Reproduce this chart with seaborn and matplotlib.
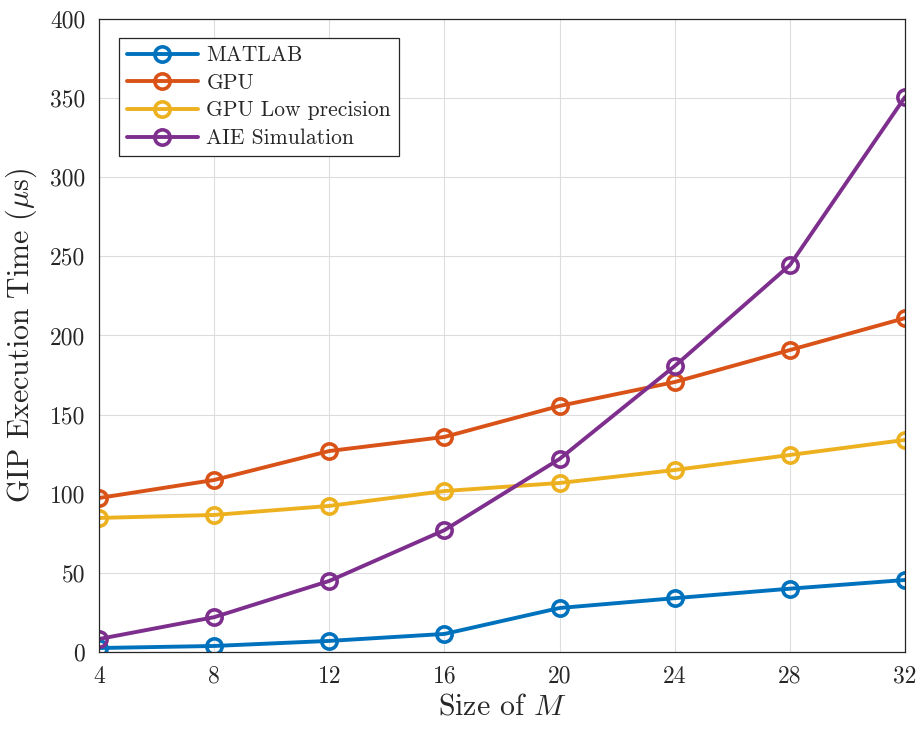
import matplotlib
matplotlib.use("Agg")
import matplotlib.pyplot as plt
import seaborn as sns
import pandas as pd

sizes = [4, 8, 12, 16, 20, 24, 28, 32]
matlab = [2.5, 3.8, 7.0, 11.4, 27.8, 34.0, 40.0, 45.5]
gpu = [97.3, 108.7, 127.0, 135.9, 155.5, 170.6, 190.8, 211.0]
gpu_low = [84.7, 86.6, 92.3, 101.7, 106.8, 115.0, 124.5, 134.0]
aie = [8.2, 22.0, 44.9, 77.0, 122.0, 180.7, 244.5, 350.7]
series_names = ["MATLAB", "GPU", "GPU Low precision", "AIE Simulation"]
colors = ["#0072BD", "#D95319", "#EDB120", "#7E2F8E"]
xticks = [4, 8, 12, 16, 20, 24, 28, 32]
yticks = [0, 50, 100, 150, 200, 250, 300, 350, 400]

sns.set_theme(style="white")
plt.rcParams["font.family"] = ["serif"]
plt.rcParams["font.serif"] = ["cmr10", "DejaVu Serif"]
plt.rcParams["mathtext.fontset"] = "cm"
plt.rcParams["axes.formatter.use_mathtext"] = True

df = pd.DataFrame({
    "size": sizes * 4,
    "time": matlab + gpu + gpu_low + aie,
    "series": sum([[n] * len(sizes) for n in series_names], []),
})

fig = plt.figure(figsize=(9.22, 7.31), dpi=100)
ax = fig.add_axes([0.1074, 0.1081, 0.9816 - 0.1074, 0.974 - 0.1081])

sns.lineplot(data=df, x="size", y="time", hue="series", hue_order=series_names,
             palette=colors, marker="o", markersize=11, markerfacecolor="none",
             markeredgewidth=2.6, linewidth=2.8, ax=ax, sort=False)
for line, c in zip(ax.lines, colors):
    line.set_markeredgecolor(c)
    line.set_markerfacecolor("none")

ax.set_xlim(4, 32)
ax.set_ylim(0, 400)
ax.set_xticks(xticks)
ax.set_yticks(yticks)
ax.set_xticklabels([str(v) for v in xticks])
ax.set_yticklabels([str(v) for v in yticks])
ax.tick_params(axis="both", direction="in", length=6, width=0.8, labelsize=17,
               colors="#262626", pad=10)
ax.grid(True, color="#dddddd", linewidth=0.8)
for s in ax.spines.values():
    s.set_color("#262626")
    s.set_linewidth(0.9)
ax.set_xlabel(r"Size of $M$", fontsize=21.5, color="#262626", labelpad=4)
ax.set_ylabel(r"GIP Execution Time ($\mu$s)", fontsize=21.5, color="#262626",
              labelpad=8)

leg = ax.legend(loc="upper left", bbox_to_anchor=(0.025, 0.97), fontsize=15.5,
                frameon=True, fancybox=False, edgecolor="#262626",
                handlelength=3.3, borderpad=0.35, labelspacing=0.38,
                handletextpad=0.4, framealpha=1, borderaxespad=0.0)
leg.get_frame().set_linewidth(0.9)
for h, c in zip(leg.legend_handles, colors):
    h.set_markeredgecolor(c)
    h.set_markerfacecolor("none")

fig.savefig("out.png", dpi=100)
